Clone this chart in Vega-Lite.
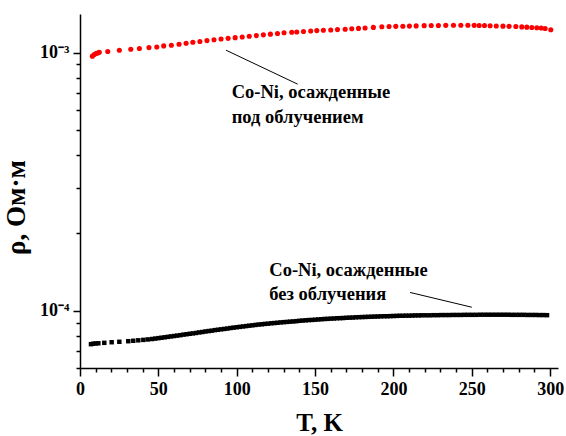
{
  "$schema": "https://vega.github.io/schema/vega-lite/v6.json",
  "autosize": {"type": "none"},
  "width": 478,
  "height": 354,
  "padding": {"left": 80, "top": 14, "right": 8, "bottom": 68},
  "background": "white",
  "config": {
    "view": {"stroke": null},
    "font": "Liberation Serif",
    "axis": {
      "grid": false,
      "domainColor": "black",
      "domainWidth": 1.5,
      "tickColor": "black",
      "tickWidth": 1.5,
      "labelColor": "black",
      "labelFont": "Liberation Serif",
      "labelFontWeight": "bold",
      "labelFontSize": 18,
      "labelOverlap": false,
      "labelBound": false,
      "labelFlush": false,
      "titleColor": "black",
      "titleFont": "Liberation Serif",
      "titleFontWeight": "bold"
    }
  },
  "datasets": {
    "irradiated": [
      {"T":7.9,"rho":9.68e-4},{"T":9.1,"rho":9.82e-4},{"T":10.2,"rho":9.91e-4},{"T":11.3,"rho":9.96e-4},
      {"T":12.3,"rho":1.003e-3},{"T":17.7,"rho":1.009e-3},{"T":25.1,"rho":1.021e-3},{"T":32.4,"rho":1.030e-3},
      {"T":37.9,"rho":1.036e-3},{"T":44.0,"rho":1.045e-3},{"T":49.0,"rho":1.051e-3},{"T":53.4,"rho":1.061e-3},
      {"T":58.3,"rho":1.067e-3},{"T":63.2,"rho":1.077e-3},{"T":67.7,"rho":1.086e-3},{"T":72.0,"rho":1.096e-3},
      {"T":76.5,"rho":1.104e-3},{"T":81.0,"rho":1.112e-3},{"T":85.5,"rho":1.120e-3},{"T":90.0,"rho":1.128e-3},
      {"T":94.5,"rho":1.135e-3},{"T":99.0,"rho":1.142e-3},{"T":103.5,"rho":1.149e-3},{"T":108.0,"rho":1.156e-3},
      {"T":112.5,"rho":1.163e-3},{"T":117.0,"rho":1.171e-3},{"T":121.5,"rho":1.178e-3},{"T":126.0,"rho":1.185e-3},
      {"T":130.2,"rho":1.193e-3},{"T":135.1,"rho":1.198e-3},{"T":138.3,"rho":1.201e-3},{"T":142.6,"rho":1.206e-3},
      {"T":147.2,"rho":1.212e-3},{"T":151.1,"rho":1.216e-3},{"T":155.3,"rho":1.220e-3},{"T":160.0,"rho":1.223e-3},
      {"T":164.3,"rho":1.227e-3},{"T":169.2,"rho":1.231e-3},{"T":173.4,"rho":1.236e-3},{"T":177.7,"rho":1.240e-3},
      {"T":181.9,"rho":1.245e-3},{"T":187.2,"rho":1.251e-3},{"T":192.6,"rho":1.258e-3},{"T":197.2,"rho":1.261e-3},
      {"T":201.5,"rho":1.263e-3},{"T":206.0,"rho":1.264e-3},{"T":210.2,"rho":1.266e-3},{"T":214.5,"rho":1.268e-3},
      {"T":219.6,"rho":1.271e-3},{"T":224.1,"rho":1.272e-3},{"T":228.7,"rho":1.273e-3},{"T":233.4,"rho":1.274e-3},
      {"T":238.3,"rho":1.275e-3},{"T":243.0,"rho":1.275e-3},{"T":247.5,"rho":1.275e-3},{"T":251.5,"rho":1.274e-3},
      {"T":254.7,"rho":1.273e-3},{"T":258.1,"rho":1.272e-3},{"T":261.7,"rho":1.270e-3},{"T":265.6,"rho":1.267e-3},
      {"T":269.9,"rho":1.265e-3},{"T":273.8,"rho":1.263e-3},{"T":278.1,"rho":1.261e-3},{"T":281.9,"rho":1.257e-3},
      {"T":285.1,"rho":1.254e-3},{"T":288.3,"rho":1.250e-3},{"T":291.5,"rho":1.247e-3},{"T":294.3,"rho":1.244e-3},
      {"T":296.8,"rho":1.239e-3},{"T":300.4,"rho":1.225e-3}
    ],
    "plain": [
      {"T":7.0,"rho":7.42e-5},{"T":8.5,"rho":7.45e-5},{"T":10.0,"rho":7.47e-5},{"T":11.7,"rho":7.48e-5},
      {"T":15.5,"rho":7.51e-5},{"T":20.2,"rho":7.55e-5},{"T":25.1,"rho":7.58e-5},{"T":30.8,"rho":7.62e-5},
      {"T":34.0,"rho":7.65e-5},{"T":37.2,"rho":7.68e-5},{"T":40.4,"rho":7.71e-5},{"T":43.2,"rho":7.74e-5},
      {"T":46,"rho":7.77e-5},{"T":48,"rho":7.80e-5},{"T":50,"rho":7.83e-5},{"T":52,"rho":7.86e-5},
      {"T":54,"rho":7.89e-5},{"T":56,"rho":7.92e-5},{"T":58,"rho":7.95e-5},{"T":60,"rho":7.98e-5},
      {"T":62,"rho":8.01e-5},{"T":64,"rho":8.04e-5},{"T":66,"rho":8.08e-5},{"T":68,"rho":8.11e-5},
      {"T":70,"rho":8.14e-5},{"T":72,"rho":8.17e-5},{"T":74,"rho":8.20e-5},{"T":76,"rho":8.24e-5},
      {"T":78,"rho":8.27e-5},{"T":80,"rho":8.31e-5},{"T":82,"rho":8.34e-5},{"T":84,"rho":8.37e-5},
      {"T":86,"rho":8.41e-5},{"T":88,"rho":8.44e-5},{"T":90,"rho":8.47e-5},{"T":92,"rho":8.50e-5},
      {"T":94,"rho":8.53e-5},{"T":96,"rho":8.57e-5},{"T":98,"rho":8.60e-5},{"T":100,"rho":8.63e-5},
      {"T":102,"rho":8.66e-5},{"T":104,"rho":8.69e-5},{"T":106,"rho":8.72e-5},{"T":108,"rho":8.75e-5},
      {"T":110,"rho":8.78e-5},{"T":112,"rho":8.81e-5},{"T":114,"rho":8.84e-5},{"T":116,"rho":8.86e-5},
      {"T":118,"rho":8.89e-5},{"T":120,"rho":8.91e-5},{"T":122,"rho":8.94e-5},{"T":124,"rho":8.96e-5},
      {"T":126,"rho":8.98e-5},{"T":128,"rho":9.01e-5},{"T":130,"rho":9.03e-5},{"T":132,"rho":9.05e-5},
      {"T":134,"rho":9.07e-5},{"T":136,"rho":9.09e-5},{"T":138,"rho":9.11e-5},{"T":140,"rho":9.14e-5},
      {"T":142,"rho":9.16e-5},{"T":144,"rho":9.18e-5},{"T":146,"rho":9.20e-5},{"T":148,"rho":9.21e-5},
      {"T":150,"rho":9.23e-5},{"T":152,"rho":9.25e-5},{"T":154,"rho":9.27e-5},{"T":156,"rho":9.29e-5},
      {"T":158,"rho":9.30e-5},{"T":160,"rho":9.32e-5},{"T":162,"rho":9.33e-5},{"T":164,"rho":9.35e-5},
      {"T":166,"rho":9.36e-5},{"T":168,"rho":9.37e-5},{"T":170,"rho":9.39e-5},{"T":172,"rho":9.40e-5},
      {"T":174,"rho":9.41e-5},{"T":176,"rho":9.43e-5},{"T":178,"rho":9.44e-5},{"T":180,"rho":9.45e-5},
      {"T":182,"rho":9.46e-5},{"T":184,"rho":9.47e-5},{"T":186,"rho":9.48e-5},{"T":188,"rho":9.49e-5},
      {"T":190,"rho":9.50e-5},{"T":192,"rho":9.51e-5},{"T":194,"rho":9.52e-5},{"T":196,"rho":9.52e-5},
      {"T":198,"rho":9.53e-5},{"T":200,"rho":9.54e-5},{"T":202,"rho":9.55e-5},{"T":204,"rho":9.56e-5},
      {"T":206,"rho":9.56e-5},{"T":208,"rho":9.57e-5},{"T":210,"rho":9.57e-5},{"T":212,"rho":9.58e-5},
      {"T":214,"rho":9.59e-5},{"T":216,"rho":9.59e-5},{"T":218,"rho":9.60e-5},
      {"T":220.5,"rho":9.60e-5},{"T":223,"rho":9.60e-5},{"T":225.5,"rho":9.61e-5},{"T":228,"rho":9.61e-5},
      {"T":230.5,"rho":9.62e-5},{"T":233,"rho":9.62e-5},{"T":235.5,"rho":9.62e-5},{"T":238,"rho":9.63e-5},
      {"T":240.5,"rho":9.63e-5},{"T":243,"rho":9.63e-5},{"T":245.5,"rho":9.64e-5},{"T":248,"rho":9.64e-5},
      {"T":250.5,"rho":9.64e-5},{"T":253,"rho":9.64e-5},{"T":255.5,"rho":9.65e-5},{"T":258,"rho":9.65e-5},
      {"T":260.5,"rho":9.65e-5},{"T":263,"rho":9.65e-5},{"T":265.5,"rho":9.65e-5},{"T":268,"rho":9.65e-5},
      {"T":270.5,"rho":9.65e-5},{"T":273,"rho":9.65e-5},{"T":275.5,"rho":9.64e-5},{"T":278,"rho":9.64e-5},
      {"T":280.5,"rho":9.64e-5},{"T":283,"rho":9.64e-5},{"T":285.5,"rho":9.63e-5},{"T":288,"rho":9.63e-5},
      {"T":290.5,"rho":9.63e-5},{"T":293,"rho":9.62e-5},{"T":295.5,"rho":9.62e-5},{"T":298,"rho":9.61e-5}
    ],
    "leaders": [
      {"T":93.2,"rho":1.0207e-3,"T2":138.9,"rho2":7.542e-4},
      {"T":210.6,"rho":1.177e-4,"T2":250.0,"rho2":1.0316e-4}
    ],
    "notes": [
      {"T":96.8,"rho":6.676e-4,"label":"Co-Ni, осажденные"},
      {"T":96.8,"rho":5.316e-4,"label":"под облучением"},
      {"T":120.8,"rho":1.3654e-4,"label":"Co-Ni, осажденные"},
      {"T":120.8,"rho":1.1028e-4,"label":"без облучения"}
    ]
  },
  "encoding": {
    "x": {
      "field": "T",
      "type": "quantitative",
      "title": "T, K",
      "scale": {"domain": [0, 305], "nice": false, "zero": false},
      "axis": {
        "values": [0,10,20,30,40,50,60,70,80,90,100,110,120,130,140,150,160,170,180,190,200,210,220,230,240,250,260,270,280,290,300],
        "labelExpr": "datum.value % 50 == 0 ? datum.label : ''",
        "tickSize": {"condition": {"test": "datum.value % 50 == 0", "value": 8}, "value": 4},
        "labelPadding": 4,
        "titleFontSize": 25,
        "titleY": 62,
        "titleBaseline": "alphabetic"
      }
    },
    "y": {
      "field": "rho",
      "type": "quantitative",
      "title": "ρ, Ом·м",
      "scale": {"type": "log", "domain": [6.0e-5, 1.41e-3], "nice": false},
      "axis": {
        "values": [6e-5,7e-5,8e-5,9e-5,1e-4,2e-4,3e-4,4e-4,5e-4,6e-4,7e-4,8e-4,9e-4,1e-3],
        "labelExpr": "datum.value == 0.001 ? '10⁻³' : (datum.value == 0.0001 ? '10⁻⁴' : '')",
        "tickSize": {"condition": {"test": "datum.value == 0.001 || datum.value == 0.0001", "value": 7}, "value": 4},
        "labelPadding": 4,
        "titleFontSize": 27,
        "titleAngle": -90,
        "titleAlign": "center",
        "titleBaseline": "middle",
        "titleX": -64,
        "titleY": 193
      }
    }
  },
  "layer": [
    {
      "data": {"name": "irradiated"},
      "mark": {"type": "point", "shape": "circle", "filled": true, "color": "#ff0000", "opacity": 1, "size": 26}
    },
    {
      "data": {"name": "plain"},
      "mark": {"type": "point", "shape": "square", "filled": true, "color": "#000000", "opacity": 1, "size": 20}
    },
    {
      "data": {"name": "leaders"},
      "mark": {"type": "rule", "color": "black", "strokeWidth": 1},
      "encoding": {"x2": {"field": "T2"}, "y2": {"field": "rho2"}}
    },
    {
      "data": {"name": "notes"},
      "mark": {"type": "text", "align": "left", "baseline": "alphabetic", "font": "Liberation Serif", "fontWeight": "bold", "fontSize": 18.5, "color": "black"},
      "encoding": {"text": {"field": "label"}}
    }
  ]
}
